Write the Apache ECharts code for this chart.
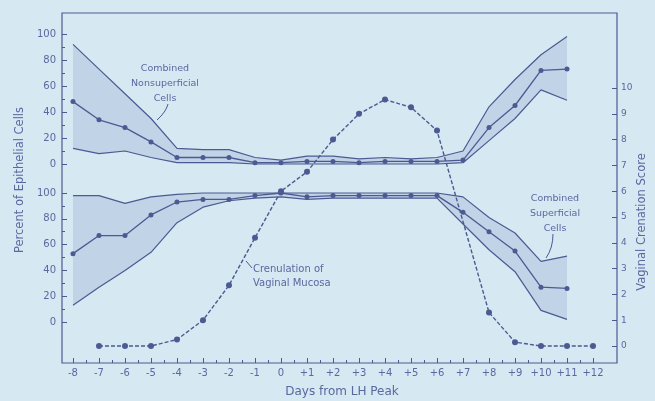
<!DOCTYPE html>
<html>
<head>
<meta charset="utf-8">
<script src="https://cdn.jsdelivr.net/npm/echarts@6/dist/echarts.min.js"></script>
<style>
html,body{margin:0;padding:0;background:#d6e8f2;}
#c{width:655px;height:401px;}
</style>
</head>
<body>
<div id="c"></div>
<script>
// ---- data ----
const days = [-8,-7,-6,-5,-4,-3,-2,-1,0,1,2,3,4,5,6,7,8,9,10,11];
// Combined Nonsuperficial Cells (%)
const nsMean  = [48,34,28,17,5,5,5,1,1,2,2,1,2,2,2,3,28,45,72,73];
const nsUpper = [92,73,54,35,12,11,11,5,3,6,6,4,5,4,5,10,44,65,84,98];
const nsLower = [12,8,10,5,1,1,1,0,0,0,0,0,0,0,0,1,18,35,57,49];
// Combined Superficial Cells (%)
const spMean  = [53,67,67,83,93,95,95,98,100,97,98,98,98,98,98,85,70,55,27,26];
const spUpper = [98,98,92,97,99,100,100,100,100,100,100,100,100,100,100,97,81,69,47,51];
const spLower = [13,27,40,54,77,89,94,96,97,95,96,96,96,96,96,76,56,39,9,2];
// Crenulation of vaginal mucosa (score)
const crenDays  = [-7,-6,-5,-4,-3,-2,-1,0,1,2,3,4,5,6,8,9,10,11,12];
const crenScore = [0,0,0,0.25,1.0,2.35,4.2,6.0,6.75,8.0,9.0,9.55,9.25,8.35,1.3,0.15,0,0,0];
// tick labels
const xTicks = [-8,-7,-6,-5,-4,-3,-2,-1,0,1,2,3,4,5,6,7,8,9,10,11,12];
const xMinor = [-7.5,-6.5,-5.5,-4.5,-3.5,-2.5,-1.5,-0.5,0.5,1.5,2.5,3.5,4.5,5.5,6.5,7.5,8.5,9.5,10.5,11.5];
const pctTicks = [0,20,40,60,80,100];
const pctMinor = [10,30,50,70,90];
const scoreTicks = [0,1,2,3,4,5,6,7,8,9,10];

// ---- styling ----
const INK = '#4b5a92';
const TXT = '#5a68a0';
const BAND = 'rgba(88,108,170,0.17)';
const FONT = 'DejaVu Sans';

const pair = (xs, ys) => xs.map((x, i) => [x, ys[i]]);

function bandSeries(yIdx, lower, upper) {
  return [
    { type: 'custom', yAxisIndex: yIdx, data: [0], silent: true, z: 1,
      renderItem: function (params, api) {
        const pts = [];
        for (let i = 0; i < days.length; i++) pts.push(api.coord([days[i], upper[i]]));
        for (let i = days.length - 1; i >= 0; i--) pts.push(api.coord([days[i], lower[i]]));
        return { type: 'polygon', shape: { points: pts }, style: { fill: BAND, stroke: null } };
      } },
    { type: 'line', yAxisIndex: yIdx, data: pair(days, lower), symbol: 'none',
      lineStyle: { color: INK, width: 1.2 }, silent: true, z: 2 },
    { type: 'line', yAxisIndex: yIdx, data: pair(days, upper), symbol: 'none',
      lineStyle: { color: INK, width: 1.2 }, silent: true, z: 2 }
  ];
}
function meanSeries(yIdx, vals) {
  return { type: 'line', yAxisIndex: yIdx, data: pair(days, vals), symbol: 'circle', symbolSize: 5,
    itemStyle: { color: INK }, lineStyle: { color: INK, width: 1.3 }, z: 3 };
}

const pctAxis = (min, max) => ({
  type: 'value', position: 'left', min: min, max: max,
  axisLine: { show: false, onZero: false }, splitLine: { show: false },
  axisTick: { show: true, inside: true, length: 5, customValues: pctTicks, lineStyle: { color: INK } },
  axisLabel: { show: true, customValues: pctTicks, color: TXT, fontFamily: FONT, fontSize: 10, margin: 6 }
});
const pctMinorAxis = (min, max) => ({
  type: 'value', position: 'left', min: min, max: max,
  axisLine: { show: false, onZero: false }, splitLine: { show: false },
  axisTick: { show: true, inside: true, length: 3, customValues: pctMinor, lineStyle: { color: INK } },
  axisLabel: { show: false }
});

const option = {
  backgroundColor: '#d6e8f2',
  animation: false,
  grid: { left: 62, right: 38, top: 13, bottom: 38, show: true, borderColor: INK, borderWidth: 1.2,
    backgroundColor: 'transparent' },
  xAxis: [{
    type: 'value', min: -8.423, max: 12.923,
    axisLine: { show: false, onZero: false }, splitLine: { show: false },
    axisTick: { show: true, inside: true, length: 5, customValues: xTicks, lineStyle: { color: INK } },
    axisLabel: { show: true, customValues: xTicks, color: TXT, fontFamily: FONT, fontSize: 10, margin: 5,
      formatter: v => v > 0 ? '+' + v : String(v) }
  }, {
    type: 'value', min: -8.423, max: 12.923, position: 'bottom',
    axisLine: { show: false, onZero: false }, splitLine: { show: false },
    axisTick: { show: true, inside: true, length: 3, customValues: xMinor, lineStyle: { color: INK } },
    axisLabel: { show: false }
  }],
  yAxis: [
    pctAxis(-153.08, 116.15),
    pctAxis(-31.78, 239.53),
    {
      type: 'value', position: 'right', min: -0.659, max: 12.907,
      axisLine: { show: false, onZero: false }, splitLine: { show: false },
      axisTick: { show: true, inside: true, length: 5, customValues: scoreTicks, lineStyle: { color: INK } },
      axisLabel: { show: true, customValues: scoreTicks, color: TXT, fontFamily: FONT, fontSize: 9, margin: 4 }
    },
    pctMinorAxis(-153.08, 116.15),
    pctMinorAxis(-31.78, 239.53)
  ],
  series: [
    ...bandSeries(0, nsLower, nsUpper),
    meanSeries(0, nsMean),
    ...bandSeries(1, spLower, spUpper),
    meanSeries(1, spMean),
    { type: 'line', yAxisIndex: 2, data: pair(crenDays, crenScore), symbol: 'circle', symbolSize: 6,
      itemStyle: { color: INK }, lineStyle: { color: INK, width: 1.4, type: [4, 2] }, z: 4 }
  ],
  graphic: [
    { type: 'text', x: 20, y: 180, rotation: Math.PI / 2,
      style: { text: 'Percent of Epithelial Cells', fill: TXT, font: '11.5px "DejaVu Sans"', align: 'center', verticalAlign: 'middle' } },
    { type: 'text', x: 642, y: 222, rotation: Math.PI / 2,
      style: { text: 'Vaginal Crenation Score', fill: TXT, font: '11.5px "DejaVu Sans"', align: 'center', verticalAlign: 'middle' } },
    { type: 'text', x: 342, y: 392,
      style: { text: 'Days from LH Peak', fill: TXT, font: '12px "DejaVu Sans"', align: 'center', verticalAlign: 'middle' } },
    { type: 'text', x: 165, y: 84,
      style: { text: 'Combined\nNonsuperficial\nCells', fill: TXT, font: '9.5px "DejaVu Sans"', align: 'center',
        verticalAlign: 'middle', lineHeight: 15 } },
    { type: 'bezierCurve', shape: { x1: 168, y1: 104, cpx1: 166, cpy1: 112, x2: 157, y2: 120 },
      style: { stroke: INK, lineWidth: 1, fill: null } },
    { type: 'text', x: 253, y: 276,
      style: { text: 'Crenulation of\nVaginal Mucosa', fill: TXT, font: '10px "DejaVu Sans"', align: 'left',
        verticalAlign: 'middle', lineHeight: 14 } },
    { type: 'polyline', shape: { points: [[252, 268], [246, 261]] }, style: { stroke: INK, lineWidth: 1 } },
    { type: 'text', x: 555, y: 214,
      style: { text: 'Combined\nSuperficial\nCells', fill: TXT, font: '9.5px "DejaVu Sans"', align: 'center',
        verticalAlign: 'middle', lineHeight: 15 } },
    { type: 'bezierCurve', shape: { x1: 553, y1: 234, cpx1: 553, cpy1: 248, x2: 546, y2: 258 },
      style: { stroke: INK, lineWidth: 1, fill: null } }
  ]
};

const chart = echarts.init(document.getElementById('c'), null, { renderer: 'canvas' });
chart.setOption(option);
</script>
</body>
</html>
